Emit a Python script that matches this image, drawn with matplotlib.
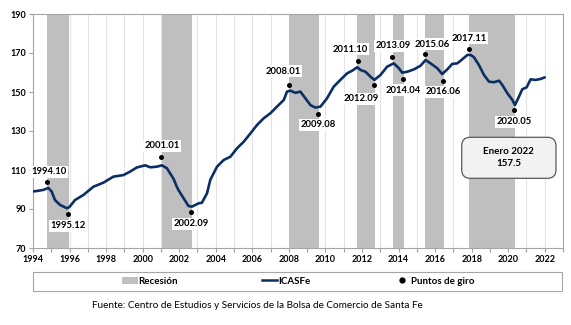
import matplotlib
matplotlib.use("Agg")
import matplotlib.pyplot as plt
from matplotlib.patches import Patch, Rectangle, FancyBboxPatch
from matplotlib.lines import Line2D

# ---- data ----
fechas = [1994.00, 1994.25, 1994.57, 1994.84, 1995.02, 1995.20, 1995.48, 1995.85, 1995.99,
          1996.30, 1996.76, 1997.30, 1997.85, 1998.40, 1998.95, 1999.30, 1999.68, 2000.14,
          2000.41, 2000.78, 2001.05, 2001.33, 2001.50, 2001.69, 2001.87, 2001.96, 2002.24,
          2002.51, 2002.69, 2003.06, 2003.24, 2003.52, 2003.70, 2003.79, 2004.07, 2004.43,
          2004.80, 2005.16, 2005.53, 2005.90, 2006.26, 2006.62, 2006.99, 2007.35, 2007.72,
          2007.90, 2008.08, 2008.36, 2008.63, 2008.90, 2009.18, 2009.45, 2009.73, 2010.09,
          2010.45, 2010.82, 2011.19, 2011.46, 2011.74, 2011.92, 2012.19, 2012.47, 2012.68,
          2013.01, 2013.38, 2013.74, 2014.02, 2014.20, 2014.48, 2014.84, 2015.21, 2015.48,
          2015.75, 2016.12, 2016.39, 2016.67, 2016.94, 2017.22, 2017.49, 2017.77, 2017.95,
          2018.13, 2018.40, 2018.68, 2018.95, 2019.22, 2019.50, 2019.68, 2019.96, 2020.23,
          2020.37, 2020.59, 2020.77, 2021.01, 2021.23, 2021.50, 2021.78, 2022.00]
icasfe = [99.0, 99.3, 99.8, 100.8, 99.0, 94.6, 92.1, 90.4, 91.0,
          94.6, 97.2, 101.4, 103.5, 106.6, 107.4, 109.1, 111.3, 112.4,
          111.4, 111.7, 112.4, 110.9, 108.3, 105.5, 101.4, 99.7, 95.5,
          91.5, 91.2, 92.9, 93.2, 98.0, 104.9, 106.6, 111.7, 115.1,
          116.8, 121.1, 124.5, 128.8, 133.1, 136.5, 139.1, 142.5, 145.9,
          150.2, 150.7, 149.6, 150.2, 146.8, 143.3, 142.0, 142.5, 146.8,
          152.7, 156.2, 159.6, 160.9, 162.7, 161.3, 160.4, 157.8, 156.2,
          158.7, 163.0, 164.7, 162.2, 159.9, 160.4, 161.6, 163.5, 166.4,
          164.7, 162.2, 159.2, 161.6, 164.4, 164.7, 166.8, 169.0, 169.0,
          167.8, 163.8, 158.7, 155.3, 155.0, 155.8, 153.6, 149.3, 145.9,
          143.3, 147.6, 151.4, 152.4, 156.5, 156.2, 156.7, 157.5]

recesion_inicio = [1994.79, 2001.05, 2007.99, 2011.75, 2013.70, 2015.44, 2017.85]
recesion_fin    = [1995.96, 2002.71, 2009.63, 2012.71, 2014.30, 2016.47, 2020.37]

giro_etiquetas = ["1994.10", "1995.12", "2001.01", "2002.09", "2008.01", "2009.08",
                  "2011.10", "2012.09", "2013.09", "2014.04", "2015.06", "2016.06",
                  "2017.11", "2020.05"]
giro_fechas = [1994.79, 1995.92, 2001.01, 2002.66, 2008.00, 2009.58, 2011.77,
               2012.68, 2013.67, 2014.26, 2015.43, 2016.43, 2017.85, 2020.34]
giro_valores = [103.7, 87.4, 116.7, 88.3, 153.5, 138.9, 165.9, 153.8, 168.0,
                156.5, 169.3, 155.8, 172.2, 140.6]

ultimo_texto = "Enero 2022\n157.5"
fuente = "Fuente: Centro de Estudios y Servicios de la Bolsa de Comercio de Santa Fe"

# label offsets in points (dx, dy) relative to each turning point
offsets = [(1.4, 7.6), (0, -8.4), (0.7, 7.9), (0, -8.2), (-4, 10), (0, -8.1),
           (-5.3, 8.6), (-9.4, -10.3), (0.5, 8.1), (0, -7.7), (5.5, 7.4), (0, -7.9),
           (0, 7.5), (0, -8.2)]

# ---- style ----
FONT = "Lato"
navy = "#0b2f64"
grey_band = "#bfbfbf"

fig = plt.figure(figsize=(5.71, 3.25), dpi=100)
AX_L, AX_R, AX_T, AX_B = 33, 563, 14, 248
ax = fig.add_axes([AX_L/571, 1-AX_B/325, (AX_R-AX_L)/571, (AX_B-AX_T)/325])

for s, e in zip(recesion_inicio, recesion_fin):
    ax.axvspan(s, e, color=grey_band, lw=0, zorder=1)

for yr in range(1995, 2023):
    ax.axvline(yr, color="#e3e3e3", lw=0.8, zorder=0.5)

ax.plot(fechas, icasfe, color=navy, lw=1.9, zorder=3, solid_capstyle="round")
ax.scatter(giro_fechas, giro_valores, s=13, color="black", zorder=4, linewidths=0)

for lab, x, y, (dx, dy) in zip(giro_etiquetas, giro_fechas, giro_valores, offsets):
    ax.annotate(lab, (x, y), xytext=(dx, dy), textcoords="offset points",
                ha="center", va="center", fontsize=6.8, fontweight="bold",
                family=FONT, zorder=5,
                bbox=dict(boxstyle="square,pad=0.15", fc="white", ec="none"))

ax.set_xlim(1994, 2023)
ax.set_ylim(70, 190)
ax.set_xticks(range(1994, 2024, 2))
ax.set_xticks(range(1994, 2024, 1), minor=True)
ax.set_yticks(range(70, 191, 20))
ax.tick_params(axis="both", which="both", length=3, color="#a0a0a0", width=0.8,
               labelsize=6.5, pad=2)
for lab in ax.get_xticklabels() + ax.get_yticklabels():
    lab.set_fontweight("bold")
    lab.set_family(FONT)
for sp in ax.spines.values():
    sp.set_color("#a6a6a6")
    sp.set_linewidth(0.8)

# final value box (axes-fraction coordinates)
aw, ah = AX_R - AX_L, AX_B - AX_T
bx0, bx1, by0, by1 = 461.7, 556.0, 137.3, 178.3
box = FancyBboxPatch(((bx0-AX_L)/aw, (AX_B-by1)/ah), (bx1-bx0)/aw, (by1-by0)/ah,
                     boxstyle="round,pad=0,rounding_size=0.016",
                     transform=ax.transAxes, fc="#f2f2f2", ec="#595959", lw=0.9,
                     zorder=6, mutation_aspect=aw/ah)
ax.add_patch(box)
ax.text(((bx0+bx1)/2-AX_L)/aw, (AX_B-(by0+by1)/2)/ah, ultimo_texto,
        transform=ax.transAxes, ha="center", va="center",
        fontsize=7, fontweight="bold", family=FONT, zorder=7, linespacing=1.4)

# legend
fig.patches.append(Rectangle((33/571, 1-290.7/325), (561.7-33)/571, 19/325,
                             transform=fig.transFigure, fc="white", ec="#a6a6a6",
                             lw=0.8))
handles = [Patch(fc=grey_band, ec="none"),
           Line2D([], [], color=navy, lw=1.8),
           Line2D([], [], marker="o", ls="none", color="black", markersize=3.5)]
leg = fig.legend(handles, ["Recesión", "ICASFe", "Puntos de giro"],
                 loc="center", bbox_to_anchor=(298/571, 1-281/325), ncol=3,
                 frameon=False, prop=dict(family=FONT, weight="bold", size=7),
                 handlelength=1.6, handleheight=0.7, handletextpad=0.1,
                 columnspacing=8.6)

fig.text(257/571, 1-306/325, fuente, ha="center", va="center", fontsize=7.2,
         family=FONT)

fig.savefig("out.png", dpi=100)
